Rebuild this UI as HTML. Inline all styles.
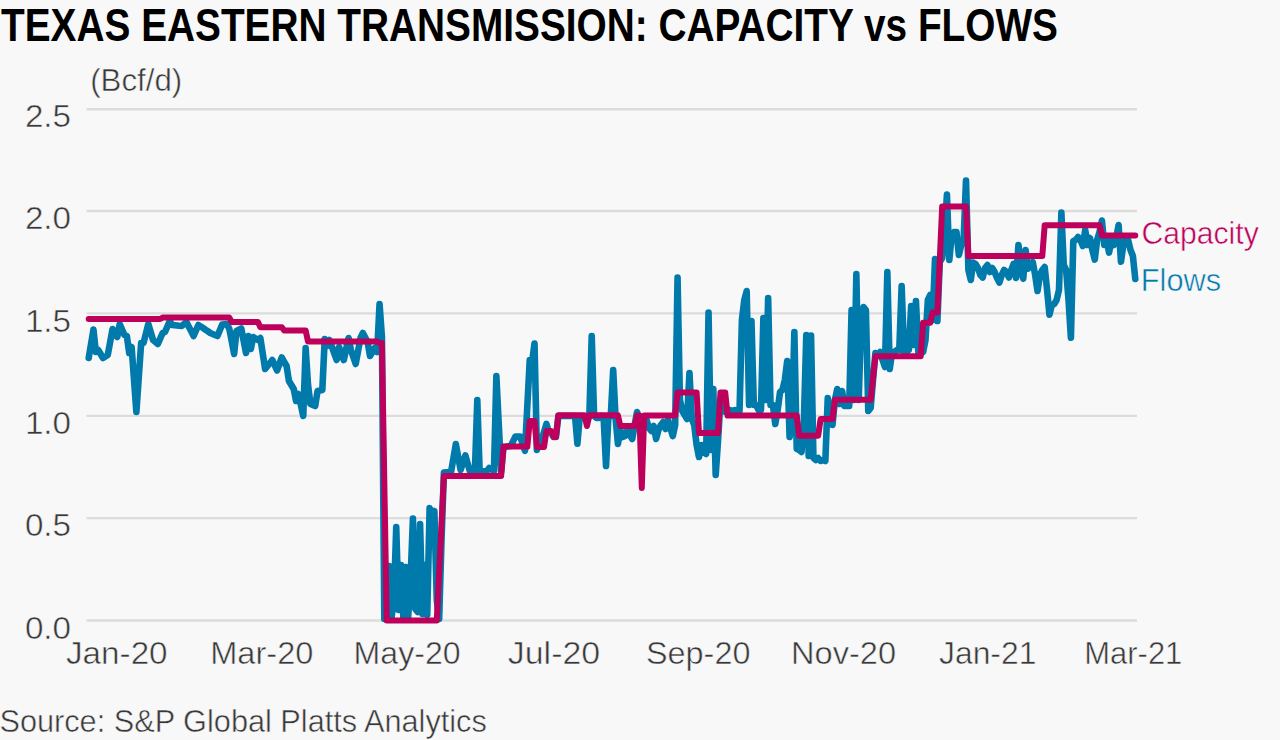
<!DOCTYPE html>
<html><head><meta charset="utf-8"><title>Texas Eastern Transmission: Capacity vs Flows</title>
<style>html,body{margin:0;padding:0;background:#f8f8f8;overflow:hidden;width:1280px;height:740px;}svg{display:block;}</style>
</head><body>
<svg width="1280" height="740" viewBox="0 0 1280 740">
<rect width="1280" height="740" fill="#f8f8f8"/>
<text x="1.0" y="41" font-family="Liberation Sans, sans-serif" font-weight="bold" font-size="46.3" fill="#000" textLength="1057.0" lengthAdjust="spacingAndGlyphs">TEXAS EASTERN TRANSMISSION: CAPACITY vs FLOWS</text>
<text x="90.2" y="91" font-family="Liberation Sans, sans-serif" font-size="30.5" stroke="#f8f8f8" stroke-width="0.5" fill="#383838" textLength="92.0" lengthAdjust="spacingAndGlyphs">(Bcf/d)</text>
<line x1="86.5" y1="109.2" x2="1137" y2="109.2" stroke="#dcdcdc" stroke-width="2.4"/>
<line x1="86.5" y1="211.0" x2="1137" y2="211.0" stroke="#dcdcdc" stroke-width="2.4"/>
<line x1="86.5" y1="313.4" x2="1137" y2="313.4" stroke="#dcdcdc" stroke-width="2.4"/>
<line x1="86.5" y1="415.9" x2="1137" y2="415.9" stroke="#dcdcdc" stroke-width="2.4"/>
<line x1="86.5" y1="518.1" x2="1137" y2="518.1" stroke="#dcdcdc" stroke-width="2.4"/>
<line x1="86.5" y1="620.5" x2="1137" y2="620.5" stroke="#dcdcdc" stroke-width="2.4"/>
<text x="24.9" y="127.3" font-family="Liberation Sans, sans-serif" font-size="31.3" stroke="#f8f8f8" stroke-width="0.5" fill="#383838" textLength="46.2" lengthAdjust="spacingAndGlyphs">2.5</text>
<text x="24.9" y="229.1" font-family="Liberation Sans, sans-serif" font-size="31.3" stroke="#f8f8f8" stroke-width="0.5" fill="#383838" textLength="46.2" lengthAdjust="spacingAndGlyphs">2.0</text>
<text x="24.9" y="331.5" font-family="Liberation Sans, sans-serif" font-size="31.3" stroke="#f8f8f8" stroke-width="0.5" fill="#383838" textLength="46.2" lengthAdjust="spacingAndGlyphs">1.5</text>
<text x="24.9" y="434.0" font-family="Liberation Sans, sans-serif" font-size="31.3" stroke="#f8f8f8" stroke-width="0.5" fill="#383838" textLength="46.2" lengthAdjust="spacingAndGlyphs">1.0</text>
<text x="24.9" y="536.2" font-family="Liberation Sans, sans-serif" font-size="31.3" stroke="#f8f8f8" stroke-width="0.5" fill="#383838" textLength="46.2" lengthAdjust="spacingAndGlyphs">0.5</text>
<text x="24.9" y="638.6" font-family="Liberation Sans, sans-serif" font-size="31.3" stroke="#f8f8f8" stroke-width="0.5" fill="#383838" textLength="46.2" lengthAdjust="spacingAndGlyphs">0.0</text>
<text x="66" y="663.7" font-family="Liberation Sans, sans-serif" font-size="30.5" stroke="#f8f8f8" stroke-width="0.5" fill="#383838" textLength="101.6" lengthAdjust="spacingAndGlyphs">Jan-20</text>
<text x="210.2" y="663.7" font-family="Liberation Sans, sans-serif" font-size="30.5" stroke="#f8f8f8" stroke-width="0.5" fill="#383838" textLength="103.2" lengthAdjust="spacingAndGlyphs">Mar-20</text>
<text x="353.6" y="663.7" font-family="Liberation Sans, sans-serif" font-size="30.5" stroke="#f8f8f8" stroke-width="0.5" fill="#383838" textLength="107.0" lengthAdjust="spacingAndGlyphs">May-20</text>
<text x="507.8" y="663.7" font-family="Liberation Sans, sans-serif" font-size="30.5" stroke="#f8f8f8" stroke-width="0.5" fill="#383838" textLength="92.4" lengthAdjust="spacingAndGlyphs">Jul-20</text>
<text x="646" y="663.7" font-family="Liberation Sans, sans-serif" font-size="30.5" stroke="#f8f8f8" stroke-width="0.5" fill="#383838" textLength="104.4" lengthAdjust="spacingAndGlyphs">Sep-20</text>
<text x="791" y="663.7" font-family="Liberation Sans, sans-serif" font-size="30.5" stroke="#f8f8f8" stroke-width="0.5" fill="#383838" textLength="105.0" lengthAdjust="spacingAndGlyphs">Nov-20</text>
<text x="939" y="663.7" font-family="Liberation Sans, sans-serif" font-size="30.5" stroke="#f8f8f8" stroke-width="0.5" fill="#383838" textLength="97.4" lengthAdjust="spacingAndGlyphs">Jan-21</text>
<text x="1084.3" y="663.7" font-family="Liberation Sans, sans-serif" font-size="30.5" stroke="#f8f8f8" stroke-width="0.5" fill="#383838" textLength="98.0" lengthAdjust="spacingAndGlyphs">Mar-21</text>
<polyline points="88.7,358 91.084,343.8 93.468,329.5 95.852,352 98.236,350 100.62,354 103.004,358 105.388,356.5 107.772,355 110.156,342 112.54,329 114.924,333 117.308,337 119.692,324 122.076,329.5 124.46,335 126.844,336 129.228,353 131.612,347 133.996,379.5 136.38,412 138.764,377.5 141.148,343 143.532,343 145.916,333.5 148.3,324 150.684,332 153.068,340 155.452,342 157.836,344 160.22,338.5 162.604,333 164.988,332 167.372,326.5 169.756,321 172.14,325 174.524,325.2 176.908,325.5 179.292,325.8 181.676,326 184.06,324 186.444,322 188.828,326.7 191.212,331.3 193.596,336 195.98,330.5 198.364,325 200.748,326.5 203.132,328 205.516,329.7 207.9,331.3 210.284,333 212.668,334 215.052,335 217.436,336 219.82,330.2 222.204,324.5 224.588,324.2 226.972,324 229.356,329 231.74,341.5 234.124,354 236.508,331 238.892,329.8 241.276,328.5 243.66,340.8 246.044,353 248.428,336 250.812,349 253.196,337 255.58,338.5 257.964,340 260.348,338 262.732,353.5 265.116,369 267.5,366 269.884,363 272.268,360 274.652,365.2 277.036,370.5 279.42,364 281.804,357.5 284.188,361.8 286.572,366 288.956,381 291.34,385 293.724,389 296.108,401 298.492,394 300.876,405 303.26,416 305.644,348 308.028,385 310.412,404 312.796,405 315.18,406 317.564,391 319.948,390.5 322.332,390 324.716,339 327.1,346 329.484,340 331.868,346.7 334.252,353.3 336.636,360 339.02,347 341.404,353.5 343.788,360 346.172,349 348.556,338 350.94,350 353.324,357 355.708,364 358.092,351 360.476,338 362.86,333 365.244,337.5 367.628,342 370.012,356 372.396,352 374.78,348 377.164,352 379.548,304 381.932,337 384.316,619 386.7,618 389.084,566 391.468,618 393.852,600 396.236,527 398.62,610 401.004,565 403.388,618 405.772,567 408.156,617 410.54,580 412.924,518.6 415.308,609 417.692,612 420.076,524 422.46,614 424.844,565 427.228,615 429.612,508 431.996,518 434.38,511 436.764,600 439.148,619 441.532,540 443.916,472.5 446.3,472.3 448.684,472.2 451.068,472 453.452,458 455.836,444 458.22,457 460.604,470 462.988,462.8 465.372,455.5 467.756,463.8 470.14,472 472.524,471.5 474.908,471 477.292,400 479.676,472 482.06,471.7 484.444,471.3 486.828,471 489.212,468 491.596,469.5 493.98,471 496.364,376 498.748,424 501.132,472 503.516,447 505.9,446.7 508.284,446.3 510.668,446 513.052,441.3 515.436,436.6 517.82,436.6 520.204,436.6 522.588,443.7 524.972,450.8 527.356,405.4 529.74,360 532.124,362 534.508,343.5 536.892,450 539.276,443 541.66,440 544.044,432 546.428,424 548.812,432 551.196,433 553.58,437 555.964,437 558.348,416 560.732,416 563.116,416 565.5,416 567.884,416 570.268,416 572.652,416 575.036,416 577.42,443.6 579.804,416 582.188,418 584.572,418 586.956,421 589.34,416 591.724,336 594.108,416 596.492,418 598.876,418 601.26,416 603.644,418 606.028,466 608.412,416 610.796,416 613.18,370 615.564,418 617.948,444 620.332,430 622.716,437 625.1,436 627.484,430 629.868,435 632.252,439 634.636,425 637.02,412 639.404,418 641.788,420 644.172,418 646.556,420 648.94,428 651.324,431 653.708,426 656.092,439 658.476,430 660.86,425 663.244,422 665.628,429 668.012,420 670.396,428 672.78,436 675.164,425 677.548,277.5 679.932,400 682.316,411 684.7,415 687.084,419 689.468,373 691.852,419 694.236,425 696.62,445 699.004,457 701.388,445 703.772,452 706.156,454 708.54,312.5 710.924,450 713.308,389 715.692,475 718.076,440 720.46,400 722.844,405 725.228,412 727.612,412 729.996,410 732.38,411 734.764,410 737.148,411 739.532,411 741.916,320 744.3,300 746.684,291 749.068,405 751.452,321 753.836,405 756.22,405 758.604,410 760.988,410 763.372,318 765.756,400 768.14,298 770.524,405 772.908,405 775.292,424 777.676,410 780.06,392 782.444,390 784.828,380 787.212,361 789.596,437 791.98,420 794.364,332 796.748,449 799.132,450 801.516,452 803.9,420 806.284,335 808.668,456 811.052,335.6 813.436,458 815.82,460 818.204,458 820.588,461 822.972,460 825.356,461 827.74,398 830.124,415 832.508,425 834.892,400 837.276,389 839.66,404 842.044,391 844.428,406 846.812,406 849.196,406 851.58,310 853.964,400 856.348,274 858.732,400 861.116,320 863.5,307 865.884,310 868.268,411 870.652,408 873.036,380 875.42,353 877.804,355 880.188,352 882.572,360 884.956,367 887.34,272 889.724,369 892.108,352 894.492,352 896.876,350 899.26,350 901.644,286 904.028,352 906.412,352 908.796,350 911.18,306 913.564,345 915.948,301 918.332,352 920.716,350 923.1,352 925.484,340 927.868,300 930.252,295 932.636,320 935.02,259 937.404,321 939.788,262 942.172,258 944.556,235 946.94,194.5 949.324,260 951.708,235 954.092,232 956.476,232 958.86,255 961.244,245 963.628,240 966.012,180.5 968.396,270 970.78,280 973.164,262.5 975.548,264 977.932,268 980.316,275 982.7,277.5 985.084,268 987.468,265 989.852,272 992.236,268 994.62,272 997.004,278 999.388,282.5 1001.77,275 1004.16,270 1006.54,272 1008.92,277.5 1011.31,270 1013.69,263.8 1016.08,278 1018.46,245 1020.84,265 1023.23,278.8 1025.61,250 1028,268.8 1030.38,265 1032.76,262 1035.15,275 1037.53,291 1039.92,275 1042.3,270 1044.68,267 1047.07,290 1049.45,314.6 1051.84,305 1054.22,304 1056.6,300 1058.99,290 1061.37,212.6 1063.76,265 1066.14,270 1068.52,300 1070.91,337.7 1073.29,241 1075.68,240 1078.06,237 1080.44,240 1082.83,246 1085.21,230 1087.6,245 1089.98,238 1092.36,250 1094.75,259.6 1097.13,240 1099.52,232 1101.9,220.6 1104.28,245 1106.67,240 1109.05,252.6 1111.44,240 1113.82,245 1116.2,238 1118.59,225 1120.97,261.7 1123.36,245 1125.74,240 1128.12,240 1130.51,250 1132.89,256 1135.28,279" fill="none" stroke="#0079ab" stroke-width="6.6" stroke-linejoin="round" stroke-linecap="round"/>
<polyline points="88.7,319 160.22,319 162.604,317.6 229.356,317.6 231.74,322 257.964,322 260.348,327.2 281.804,327.2 284.188,330.5 305.644,330.5 308.028,341.5 377.164,341.5 379.548,343 381.932,343 386.7,620.4 436.764,620.4 443.916,476 501.132,476 503.516,446.6 527.356,446.6 529.74,421 534.508,421 536.892,447 544.044,447 546.428,431 551.196,431 553.58,437 555.964,437 558.348,415.3 584.572,415.3 586.956,426 589.34,415.3 617.948,415.3 620.332,426 634.636,426 637.02,415.5 639.404,415.5 641.788,488 644.172,415.5 675.164,415.5 677.548,392.5 696.62,392.5 699.004,433 718.076,433 720.46,392.5 725.228,392.5 727.612,415.6 796.748,415.6 799.132,435.7 818.204,435.7 820.588,419 832.508,419 834.892,399.8 870.652,399.8 875.42,356.2 920.716,356.2 923.1,322.7 930.252,322.7 932.636,312.4 937.404,312.4 942.172,206.5 966.012,206.5 968.396,256 1042.3,256 1044.68,225.3 1099.52,225.3 1101.9,235.5 1135.28,235.5" fill="none" stroke="#bd005b" stroke-width="6" stroke-linejoin="round" stroke-linecap="round"/>
<text x="1141.4" y="244.3" font-family="Liberation Sans, sans-serif" font-size="30.5" stroke="#f8f8f8" stroke-width="0.5" fill="#bd005b" textLength="117.4" lengthAdjust="spacingAndGlyphs">Capacity</text>
<text x="1140.8" y="290.8" font-family="Liberation Sans, sans-serif" font-size="30.5" stroke="#f8f8f8" stroke-width="0.5" fill="#0079ab" textLength="80.2" lengthAdjust="spacingAndGlyphs">Flows</text>
<text x="-0.6" y="732" font-family="Liberation Sans, sans-serif" font-size="30.5" stroke="#f8f8f8" stroke-width="0.5" fill="#383838" textLength="487.4" lengthAdjust="spacingAndGlyphs">Source: S&amp;P Global Platts Analytics</text>
</svg>
</body></html>
